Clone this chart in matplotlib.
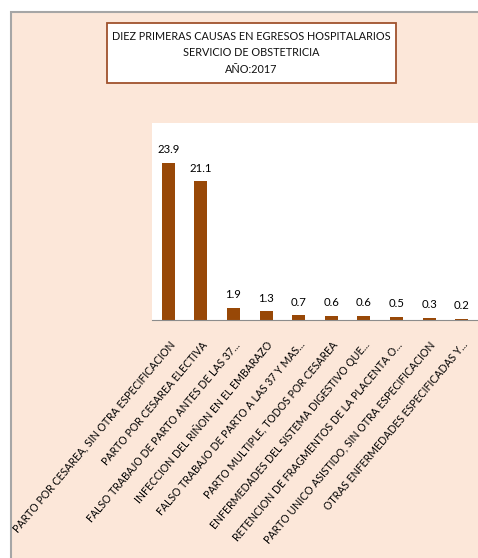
import matplotlib.pyplot as plt
from matplotlib.patches import Rectangle

causas = ['PARTO POR CESAREA, SIN OTRA ESPECIFICACION',
          'PARTO POR CESAREA ELECTIVA',
          'FALSO TRABAJO DE PARTO ANTES DE LAS 37...',
          'INFECCION DEL RIÑON EN EL EMBARAZO',
          'FALSO TRABAJO DE PARTO A LAS 37 Y MAS...',
          'PARTO MULTIPLE, TODOS POR CESAREA',
          'ENFERMEDADES DEL SISTEMA DIGESTIVO QUE...',
          'RETENCION DE FRAGMENTOS DE LA PLACENTA O...',
          'PARTO UNICO ASISTIDO, SIN OTRA ESPECIFICACION',
          'OTRAS ENFERMEDADES ESPECIFICADAS Y...']
porcentajes = [23.9, 21.1, 1.9, 1.3, 0.7, 0.6, 0.6, 0.5, 0.3, 0.2]

W, H = 478, 558
fig = plt.figure(figsize=(W / 100, H / 100), dpi=100)
fig.patch.set_facecolor('white')
plt.rcParams['font.family'] = ['Lato', 'DejaVu Sans']

# fondo del grafico
fig.patches.append(Rectangle((11 / W, -0.05), 1.1, 1 - 12 / H + 0.05,
                             transform=fig.transFigure, facecolor='#fce7d9',
                             edgecolor='#a6a6a6', linewidth=1.5, zorder=-2))

# caja del titulo
fig.patches.append(Rectangle((107 / W, 1 - 83 / H), 289 / W, 60 / H,
                             transform=fig.transFigure, facecolor='white',
                             edgecolor='#a0522d', linewidth=1.3, zorder=-1))
fig.text(251 / W, 1 - 53 / H,
         'DIEZ PRIMERAS CAUSAS EN EGRESOS HOSPITALARIOS\nSERVICIO DE OBSTETRICIA\nAÑO:2017',
         ha='center', va='center', fontsize=7.8, linespacing=1.6, zorder=2,
         color='#111111')

ax = fig.add_axes([152 / W, 1 - 320 / H, 326 / W, 197 / H])
ax.set_facecolor('white')
x = range(len(porcentajes))
bars = ax.bar(x, porcentajes, width=0.4, color='#984807')
for b, v in zip(bars, porcentajes):
    ax.text(b.get_x() + b.get_width() / 2, v + 1.2, f'{v:.1f}',
            ha='center', va='bottom', fontsize=8.2)

ax.set_xlim(-0.5, 9.5)
ax.set_ylim(0, 30)
ax.set_yticks([])
for s in ['top', 'right', 'left']:
    ax.spines[s].set_visible(False)
ax.spines['bottom'].set_color('#8c8c8c')
ax.set_xticks(list(x))
ax.set_xticklabels(causas, rotation=50, ha='right', va='top',
                   rotation_mode='anchor', fontsize=7.6)
ax.tick_params(axis='x', length=0, pad=14)

fig.savefig('out.png', dpi=100)
